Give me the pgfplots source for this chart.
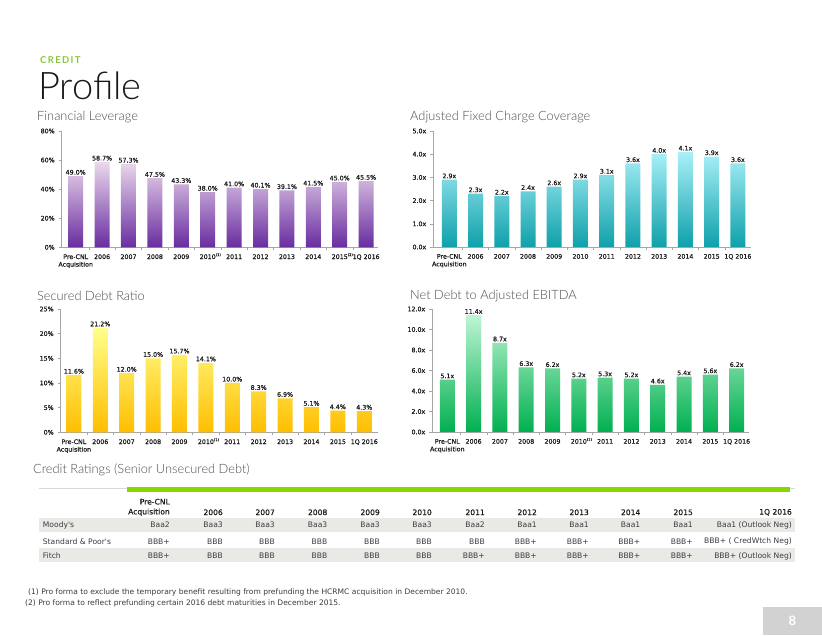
\documentclass[border=0pt]{standalone}
\usepackage{pgfplots}
\pgfplotsset{compat=1.18}
\usepackage{fontspec}
\setmainfont{Lato}
\newfontfamily\dv{DejaVu Sans}
\newfontfamily\dvm{DejaVu Sans}[FakeBold=0.45]
\newfontfamily\latolight{Lato Light}
\definecolor{axgray}{HTML}{A6A6A6}
\definecolor{txt}{HTML}{1A1A1A}
\definecolor{ttl}{HTML}{4D4D4D}
\definecolor{credgreen}{HTML}{8CC63F}
\definecolor{barline}{HTML}{8CD600}
\definecolor{rowgray}{HTML}{E9E9E6}
\newcommand\fn[1]{\makebox[0pt][l]{\smash{\raisebox{3pt}{\fontsize{3.6}{4}\selectfont(#1)}}}}
\pgfplotsset{
  /pgf/number format/assume math mode=true,
  slide/.style={
    scale only axis, anchor=south west, ybar, bar width=15pt,
    axis x line*=bottom, axis y line*=left,
    axis line style={draw=axgray, line width=0.6pt},
    tick align=outside, major tick length=3pt, minor tick length=3pt,
    tick style={draw=axgray, line width=0.5pt},
    xtick={0,...,11}, major x tick style={draw=none},
    minor xtick={0.5,1.5,...,10.5},
    minor x tick style={draw=axgray, line width=0.5pt},
    ymin=0, clip=false,
    ticklabel style={font=\dvm\fontsize{6.3}{7.6}\selectfont, text=txt},
    xticklabel style={align=center, yshift=-0.5pt},
    yticklabel style={xshift=-0.5pt},
    nodes near coords style={font=\dvm\fontsize{6.3}{7}\selectfont, text=txt, inner sep=1.2pt},
  },
}
\begin{document}
\begin{tikzpicture}
\fill[white] (0pt,0pt) rectangle (822pt,635pt);
% header
\node[anchor=base west, inner sep=0pt, text=credgreen, font=\fontsize{9.5}{10}\selectfont\bfseries\addfontfeature{LetterSpace=14}] at (40pt,571pt) {CREDIT};
\node[anchor=base west, inner sep=0pt, text=black!90, font=\latolight\fontsize{38}{40}\selectfont] at (38pt,535.5pt) {Profile};
% chart titles
\begin{scope}[every node/.style={anchor=west, inner sep=0pt, text=ttl, font=\latolight\fontsize{12.8}{14}\selectfont}]
\node at (37pt,518.3pt) {Financial Leverage};
\node at (410pt,518.3pt) {Adjusted Fixed Charge Coverage};
\node at (37pt,339pt) {Secured Debt Ratio};
\node at (410pt,339pt) {Net Debt to Adjusted EBITDA};
\node at (33pt,165pt) {Credit Ratings (Senior Unsecured Debt)};
\end{scope}

% Chart 1: Financial Leverage
\begin{axis}[slide, at={(61.7pt,387.7pt)}, width=316.3pt, height=116.3pt,
  xmin=-0.53, xmax=11.45, ymax=80, ytick={0,20,...,80},
  yticklabel={\pgfmathprintnumber{\tick}\%},
  xticklabels={{Pre-CNL\\Acquisition},2006,2007,2008,2009,2010\fn{1},2011,2012,2013,2014,2015\fn{2},1Q 2016},
  nodes near coords={\pgfmathprintnumber[fixed,fixed zerofill,precision=1]{\pgfplotspointmeta}\%}]
\addplot[draw=none, top color=violet!15!white, middle color=violet!55!white, bottom color={rgb,255:red,104;green,44;blue,160}]
  coordinates {(0,49.0) (1,58.7) (2,57.3) (3,47.5) (4,43.3) (5,38.0) (6,41.0) (7,40.1) (8,39.1) (9,41.5) (10,45.0) (11,45.5)};
\end{axis}

% Chart 2: Adjusted Fixed Charge Coverage
\begin{axis}[slide, at={(433.3pt,388pt)}, width=317.7pt, height=116pt,
  xmin=-0.61, xmax=11.5, ymax=5, ytick={0,1,...,5},
  yticklabel={\pgfmathprintnumber[fixed,fixed zerofill,precision=1]{\tick}x},
  xticklabels={{Pre-CNL\\Acquisition},2006,2007,2008,2009,2010,2011,2012,2013,2014,2015,1Q 2016},
  nodes near coords={\pgfmathprintnumber[fixed,fixed zerofill,precision=1]{\pgfplotspointmeta}x}]
\addplot[draw=none, top color={rgb,255:red,170;green,240;blue,248}, middle color={rgb,255:red,40;green,195;blue,210}, bottom color={rgb,255:red,14;green,160;blue,170}]
  coordinates {(0,2.9) (1,2.3) (2,2.2) (3,2.4) (4,2.6) (5,2.9) (6,3.1) (7,3.6) (8,4.0) (9,4.1) (10,3.9) (11,3.6)};
\end{axis}

% Chart 3: Secured Debt Ratio
\begin{axis}[slide, at={(60.7pt,202.7pt)}, width=317.3pt, height=123.3pt,
  xmin=-0.5, xmax=11.52, ymax=25, ytick={0,5,...,25},
  yticklabel={\pgfmathprintnumber{\tick}\%},
  xticklabels={{Pre-CNL\\Acquisition},2006,2007,2008,2009,2010\fn{1},2011,2012,2013,2014,2015,1Q 2016},
  nodes near coords={\pgfmathprintnumber[fixed,fixed zerofill,precision=1]{\pgfplotspointmeta}\%}]
\addplot[draw=none, top color={rgb,255:red,255;green,255;blue,140}, middle color={rgb,255:red,255;green,238;blue,0}, bottom color={rgb,255:red,255;green,190;blue,0}]
  coordinates {(0,11.6) (1,21.2) (2,12.0) (3,15.0) (4,15.7) (5,14.1) (6,10.0) (7,8.3) (8,6.9) (9,5.1) (10,4.4) (11,4.3)};
\end{axis}

% Chart 4: Net Debt to Adjusted EBITDA
\begin{axis}[slide, at={(432.3pt,203pt)}, width=316.7pt, height=123pt,
  xmin=-0.57, xmax=11.47, ymax=12, ytick={0,2,...,12},
  yticklabel={\pgfmathprintnumber[fixed,fixed zerofill,precision=1]{\tick}x},
  xticklabels={{Pre-CNL\\Acquisition},2006,2007,2008,2009,2010\fn{1},2011,2012,2013,2014,2015,1Q 2016},
  nodes near coords={\pgfmathprintnumber[fixed,fixed zerofill,precision=1]{\pgfplotspointmeta}x}]
\addplot[draw=none, top color={rgb,255:red,190;green,245;blue,210}, middle color={rgb,255:red,60;green,215;blue,120}, bottom color={rgb,255:red,0;green,176;blue,80}]
  coordinates {(0,5.1) (1,11.4) (2,8.7) (3,6.3) (4,6.2) (5,5.2) (6,5.3) (7,5.2) (8,4.6) (9,5.4) (10,5.6) (11,6.2)};
\end{axis}

% Credit ratings table
\draw[draw=gray!30, line width=0.6pt] (39pt,147pt) -- (795pt,147pt);
\fill[barline] (127pt,143pt) rectangle (790pt,147.7pt);
\fill[rowgray] (39pt,103.3pt) rectangle (795pt,116.7pt);
\fill[rowgray] (39pt,72.7pt) rectangle (795pt,86.7pt);
\begin{scope}[every node/.style={inner sep=0pt, text=txt, font=\dvm\fontsize{7.6}{8}\selectfont}]
\node[anchor=east] at (170pt,133.3pt) {Pre-CNL};
\node[anchor=east] at (170pt,122.7pt) {Acquisition};
\foreach \x/\t in {223/2006,275/2007,327.5/2008,380/2009,432/2010,485/2011,537/2012,589/2013,640.5/2014,693/2015,792/1Q 2016}
  \node[anchor=east] at (\x pt,122.7pt) {\t};
\end{scope}
\begin{scope}[every node/.style={inner sep=0pt, text=txt!85, font=\dv\fontsize{7.6}{8}\selectfont}]
\node[anchor=west] at (42.7pt,110pt) {Moody's};
\node[anchor=west] at (42.7pt,93.3pt) {Standard \& Poor's};
\node[anchor=west] at (42.7pt,79pt) {Fitch};
\foreach \x/\t in {170/Baa2,223/Baa3,275/Baa3,327.5/Baa3,380/Baa3,432/Baa3,485/Baa2,537/Baa1,589/Baa1,640.5/Baa1,693/Baa1,792/Baa1 (Outlook Neg)}
  \node[anchor=east] at (\x pt,110pt) {\t};
\foreach \x/\t in {170/BBB+,223/BBB,275/BBB,327.5/BBB,380/BBB,432/BBB,485/BBB,537/BBB+,589/BBB+,640.5/BBB+,693/BBB+,792/BBB+ ( CredWtch Neg)}
  \node[anchor=east] at (\x pt,93.3pt) {\t};
\foreach \x/\t in {170/BBB+,223/BBB,275/BBB,327.5/BBB,380/BBB,432/BBB,485/BBB+,537/BBB+,589/BBB+,640.5/BBB+,693/BBB+,792/BBB+ (Outlook Neg)}
  \node[anchor=east] at (\x pt,79pt) {\t};
\end{scope}
% footnotes
\node[anchor=west, inner sep=0pt, text=txt!85, font=\dv\fontsize{7.55}{8}\selectfont] at (28pt,43pt) {(1) Pro forma to exclude the temporary benefit resulting from prefunding the HCRMC acquisition in December 2010.};
\node[anchor=west, inner sep=0pt, text=txt!85, font=\dv\fontsize{7.55}{8}\selectfont] at (25pt,32pt) {(2) Pro forma to reflect prefunding certain 2016 debt maturities in December 2015.};
% page number
\fill[gray!35] (763pt,0pt) rectangle (822pt,28pt);
\node[text=white, font=\fontsize{13}{14}\selectfont\bfseries] at (792.5pt,14pt) {8};
\end{tikzpicture}
\end{document}
